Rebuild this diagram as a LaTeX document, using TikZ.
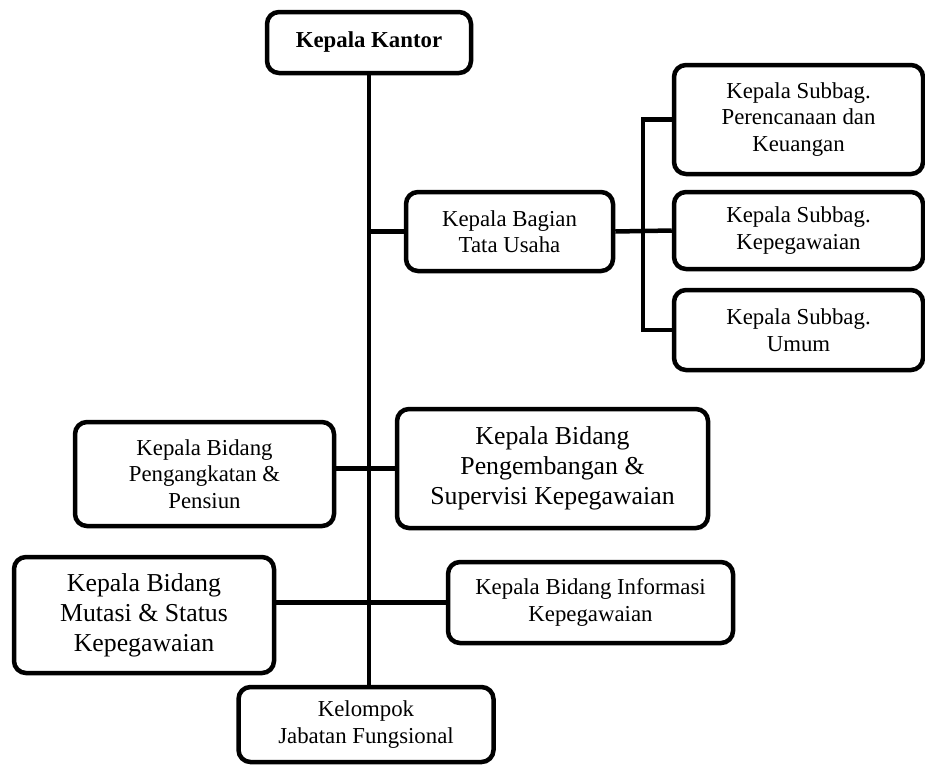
\documentclass[tikz,border=0pt]{standalone}
\usepackage{fontspec}
\setmainfont{Liberation Serif}
\usepackage{tikz}
\newcommand\smallbox{\fontsize{22.8}{26.5}\selectfont}
\newcommand\bigbox{\fontsize{25.8}{30}\selectfont}

\begin{document}
\begin{tikzpicture}[x=1pt,y=-1pt,
  unit/.style={draw,line width=4.5pt,rounded corners=12pt,align=center,inner sep=0pt,font=\smallbox},
  link/.style={line width=4.5pt}]
\useasboundingbox (0,0) rectangle (925,766);
\node[unit,minimum width=204,minimum height=61] (kantor) at (369,42.5) {\textbf{Kepala Kantor}};
\node[unit,minimum width=207,minimum height=79] (tu) at (509.5,231.5) {Kepala Bagian\\Tata Usaha};
\node[unit,minimum width=249,minimum height=109] (sub1) at (798.5,119.5) {Kepala Subbag.\\Perencanaan dan\\Keuangan};
\node[unit,minimum width=249,minimum height=77] (sub2) at (798.5,230.5) {Kepala Subbag.\\Kepegawaian};
\node[unit,minimum width=249,minimum height=80] (sub3) at (798.5,330) {Kepala Subbag.\\Umum};
\node[unit,minimum width=259,minimum height=104] (peng) at (204.5,474) {Kepala Bidang\\Pengangkatan \&\\Pensiun};
\node[unit,font=\bigbox,minimum width=311,minimum height=119] (pengemb) at (552.5,468.5) {Kepala Bidang\\Pengembangan \&\\Supervisi Kepegawaian};
\node[unit,font=\bigbox,minimum width=260,minimum height=116] (mutasi) at (144,615) {Kepala Bidang\\Mutasi \& Status\\Kepegawaian};
\node[unit,minimum width=285,minimum height=81] (info) at (590.5,602.5) {Kepala Bidang Informasi\\Kepegawaian};
\node[unit,minimum width=255,minimum height=75] (kelompok) at (366,724.5) {Kelompok\\Jabatan Fungsional};
\coordinate (br) at (643,232);
\draw[link] (kantor.south) -- (kantor.south |- kelompok.north);
\draw[link] (tu.west) -- (tu.west -| kantor.south);
\draw[link] (tu.east) -- (sub2.west);
\draw[link] (sub1.west) -| (br) |- (sub3.west);
\draw[link] (peng.east |- pengemb.west) -- (pengemb.west);
\draw[link] (mutasi.east |- info.west) -- (info.west);
\end{tikzpicture}
\end{document}
